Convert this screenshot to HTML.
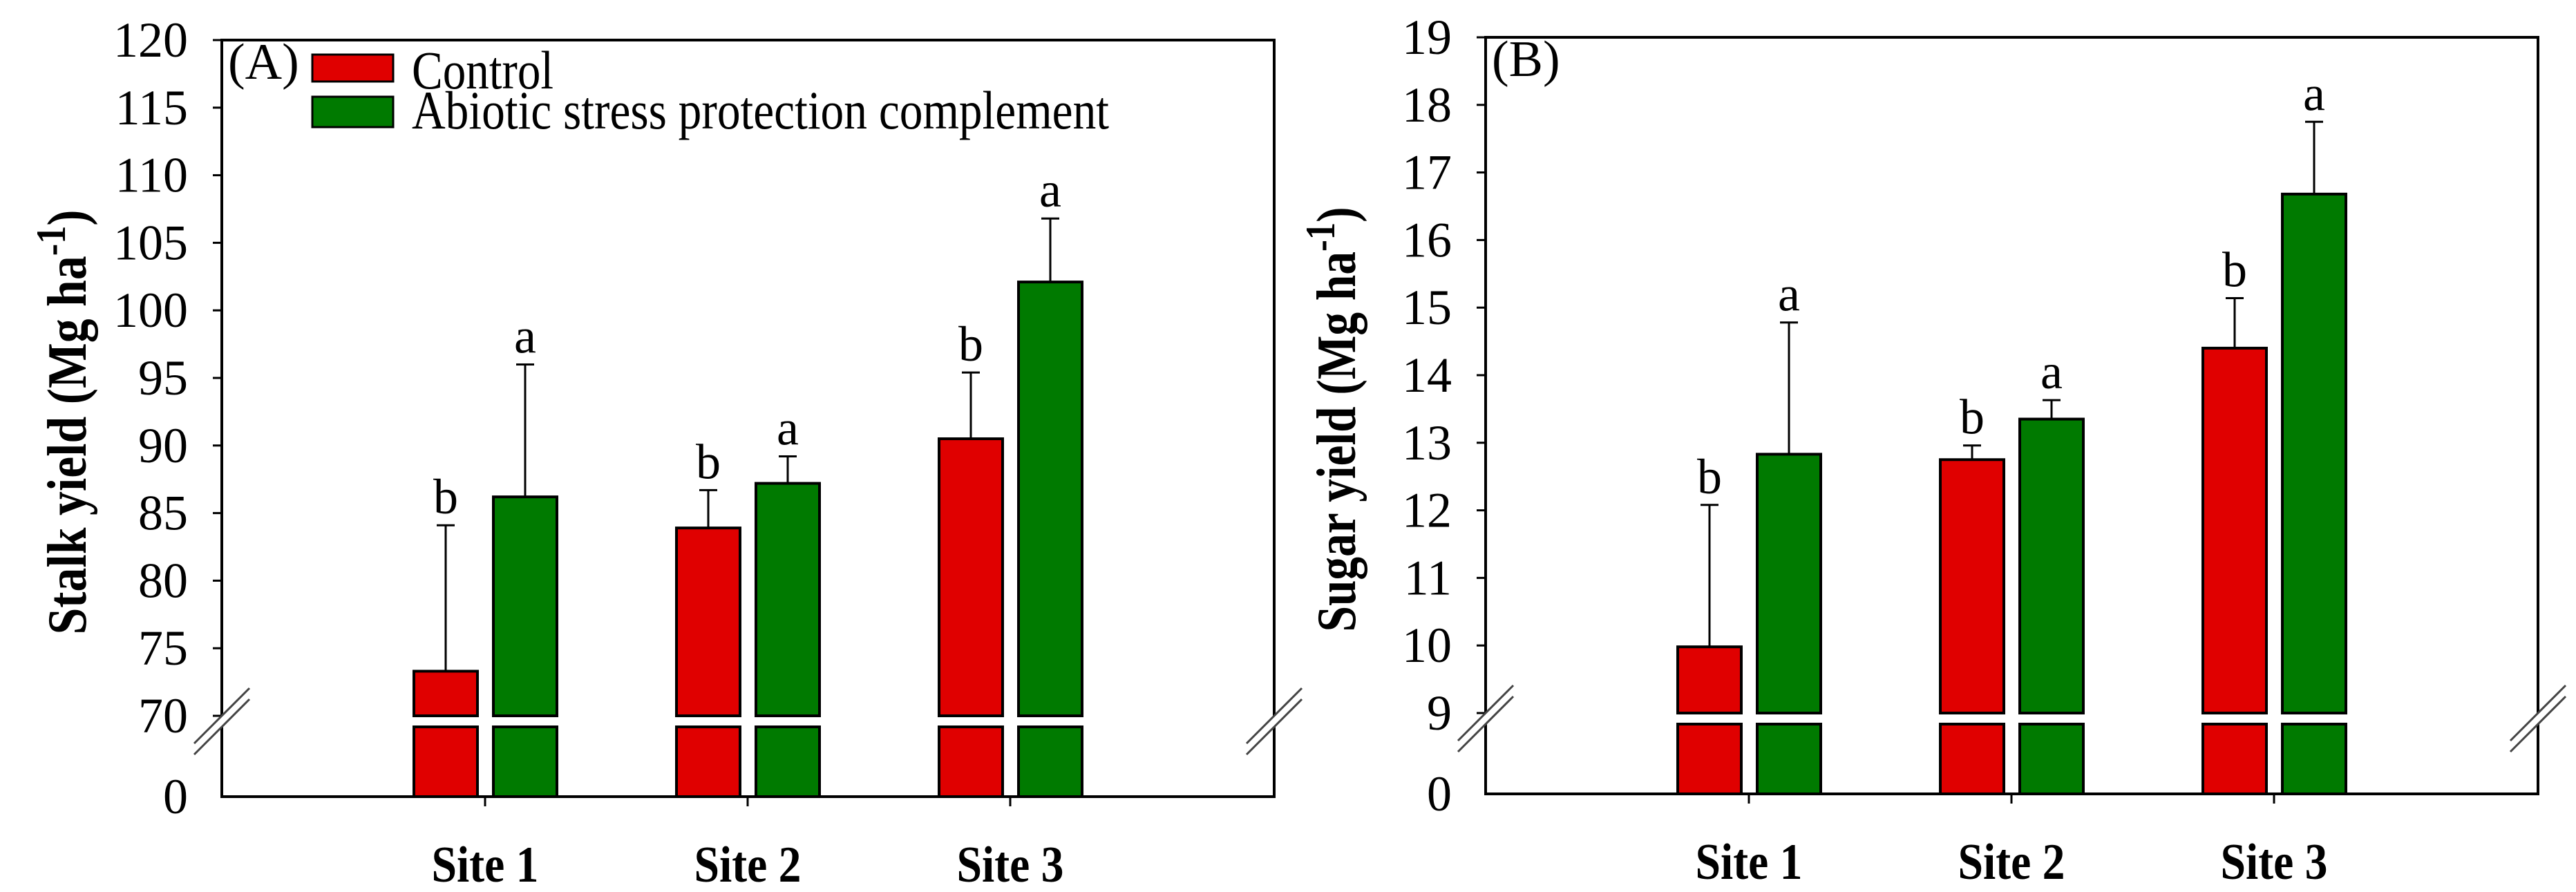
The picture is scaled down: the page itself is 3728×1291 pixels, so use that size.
<!DOCTYPE html>
<html><head><meta charset="utf-8"><style>
html,body{margin:0;padding:0;background:#fff;}
svg{display:block;font-family:"Liberation Serif",serif;}
</style></head><body>
<svg id="chart" width="3728" height="1291" viewBox="0 0 3728 1291" xmlns="http://www.w3.org/2000/svg"></svg>
<script>
const sites = ["Site 1","Site 2","Site 3"];
const stalkControl = [73.3, 83.9, 90.5];
const stalkTreat = [86.2, 87.2, 102.1];
const stalkControlErr = [84.1, 86.7, 95.4];
const stalkTreatErr = [96.0, 89.2, 106.8];
const stalkControlLetters = ["b","b","b"];
const stalkTreatLetters = ["a","a","a"];
const stalkTicks = [70,75,80,85,90,95,100,105,110,115,120];
const sugarControl = [9.98, 12.75, 14.4];
const sugarTreat = [12.83, 13.35, 16.68];
const sugarControlErr = [12.08, 12.96, 15.14];
const sugarTreatErr = [14.78, 13.63, 17.75];
const sugarControlLetters = ["b","b","b"];
const sugarTreatLetters = ["a","a","a"];
const sugarTicks = [9,10,11,12,13,14,15,16,17,18,19];

const NS = "http://www.w3.org/2000/svg";
const svg = document.getElementById("chart");
function mk(tag, attrs, parent){
  const e = document.createElementNS(NS, tag);
  for (const k in attrs) e.setAttribute(k, attrs[k]);
  (parent||svg).appendChild(e);
  return e;
}

function panel(cfg){
  const g = mk("g", {});
  
  
  const L = cfg.left, R = cfg.left + 1523, T = cfg.top, B = cfg.top + 1095;
  const lo = cfg.ticks[0], hi = cfg.ticks[cfg.ticks.length-1];
  const breakY = T + 978;
  const lowTop = breakY + 16;
  const y = v => T + (hi - v) / (hi - lo) * 978;
  const xc = i => L + 381 + i * 380;

  const frame = mk("rect", {x:L, y:T, width:R-L, height:B-T, fill:"none", stroke:"#000", "stroke-width":4}, g);
  
  

  cfg.ticks.forEach(t => {
    const yy = y(t);
    const tk = mk("line", {x1:L-13, x2:L, y1:yy, y2:yy, stroke:"#000", "stroke-width":3}, g);
    
    
    const tl = mk("text", {x:L-49, y:yy+24, "font-size":72, "text-anchor":"end"}, g);
    tl.textContent = t;
    
    
  });
  const z = mk("text", {x:L-49, y:B+24, "font-size":72, "text-anchor":"end"}, g);
  z.textContent = "0";
  
  

  [L, R].forEach(ax => {
    const c = breakY + 8;
    const w = mk("polygon", {points:`${ax-40},${c+32} ${ax+40},${c-48} ${ax+40},${c-32} ${ax-40},${c+48}`, fill:"#fff"}, g);
    
    
    [0,16].forEach(o => {
      const ln = mk("line", {x1:ax-40, y1:c+32+o, x2:ax+40, y2:c-48+o, stroke:"#444", "stroke-width":3}, g);
      
      
    });
  });

  const series = [
    {vals:cfg.control, errs:cfg.controlErr, letters:cfg.cLetters, fill:"#e00000", off:-57, nm:"control"},
    {vals:cfg.treat, errs:cfg.treatErr, letters:cfg.tLetters, fill:"#007a00", off:58, nm:"treatment"}
  ];
  sites.forEach((s, i) => {
    series.forEach(sr => {
      const cx = xc(i) + sr.off;
      const top = y(sr.vals[i]);
      const eY = y(sr.errs[i]);
      const el = mk("line", {x1:cx, x2:cx, y1:top, y2:eY, stroke:"#000", "stroke-width":3}, g);
      
      
      const cap = mk("line", {x1:cx-13, x2:cx+13, y1:eY, y2:eY, stroke:"#000", "stroke-width":3}, g);
      
      
      const up = mk("rect", {x:cx-46, y:top, width:92, height:breakY-top, fill:sr.fill, stroke:"#000", "stroke-width":4}, g);
      
      
      const dn = mk("rect", {x:cx-46, y:lowTop, width:92, height:B-lowTop, fill:sr.fill, stroke:"#000", "stroke-width":4}, g);
      
      
      const lt = mk("text", {x:cx, y:eY-17, "font-size":72, "text-anchor":"middle"}, g);
      lt.textContent = sr.letters[i];
      
      
    });
    const xt = mk("line", {x1:xc(i), x2:xc(i), y1:B, y2:B+14, stroke:"#000", "stroke-width":3}, g);
    
    
    const xl = mk("text", {x:xc(i), y:B+123, "font-size":74, "font-weight":"bold", "text-anchor":"middle", textLength:155, lengthAdjust:"spacingAndGlyphs"}, g);
    xl.textContent = s;
    
    
  });
  const pl = mk("text", {x:L+9, y:T+56, "font-size":74}, g);
  pl.textContent = cfg.label;
  
  

  const yt = mk("text", {transform:`translate(${cfg.titleX},${T+553}) rotate(-90)`, "font-size":80, "font-weight":"bold", "text-anchor":"middle", textLength:615, lengthAdjust:"spacingAndGlyphs"}, g);
  
  
  const t1 = mk("tspan", {}, yt); t1.textContent = cfg.title;
  const t2 = mk("tspan", {dy:-30, "font-size":60}, yt); t2.textContent = "-1";
  const t3 = mk("tspan", {dy:30}, yt); t3.textContent = ")";
}

panel({name:"panel-a-stalk-yield", left:321, top:58, ticks:stalkTicks, label:"(A)", title:"Stalk yield (Mg ha", titleX:124,
  control:stalkControl, treat:stalkTreat, controlErr:stalkControlErr, treatErr:stalkTreatErr, cLetters:stalkControlLetters, tLetters:stalkTreatLetters});
panel({name:"panel-b-sugar-yield", left:2150, top:54, ticks:sugarTicks, label:"(B)", title:"Sugar yield (Mg ha", titleX:1961,
  control:sugarControl, treat:sugarTreat, controlErr:sugarControlErr, treatErr:sugarTreatErr, cLetters:sugarControlLetters, tLetters:sugarTreatLetters});

const lg = mk("g", {});


const r1 = mk("rect", {x:452, y:79, width:117, height:39, fill:"#e00000", stroke:"#000", "stroke-width":3}, lg);


const r2 = mk("rect", {x:452, y:140, width:117, height:44, fill:"#007a00", stroke:"#000", "stroke-width":3}, lg);


const l1 = mk("text", {x:596, y:128, "font-size":78, textLength:205, lengthAdjust:"spacingAndGlyphs"}, lg);
l1.textContent = "Control";


const l2 = mk("text", {x:596, y:186, "font-size":78, textLength:1009, lengthAdjust:"spacingAndGlyphs"}, lg);
l2.textContent = "Abiotic stress protection complement";


</script>
</body></html>
